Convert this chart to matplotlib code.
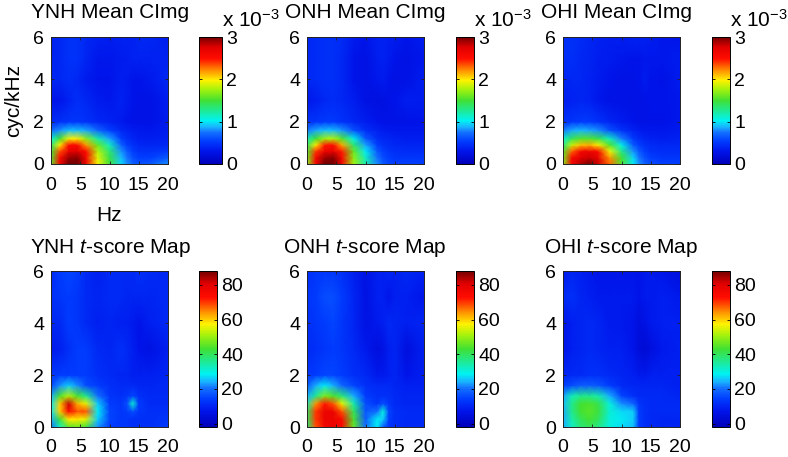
import numpy as np
import matplotlib
matplotlib.use("Agg")
import matplotlib.pyplot as plt
from matplotlib.colors import LinearSegmentedColormap

plt.rcParams["font.family"] = ["Liberation Sans", "DejaVu Sans"]
plt.rcParams["mathtext.fontset"] = "custom"
plt.rcParams["mathtext.it"] = "Liberation Sans:italic"
plt.rcParams["mathtext.rm"] = "Liberation Sans"

W, H = 788, 457

# grid the maps are read on (Hz and cyc/kHz)
rate_hz = [0, 1.5, 3, 4.5, 6, 8, 10, 12, 13, 14, 15, 17, 20]
scale_cyc = [0, 0.3, 0.6, 0.9, 1.2, 1.6, 2, 3, 4, 5, 6]

# mean CImg values, x 10^-3, rows go from scale 0 upward
ynh_mean = [
    [1.60, 2.60, 3.00, 3.05, 2.65, 1.95, 1.50, 0.95, 0.80, 0.68, 0.62, 0.65, 0.80],
    [1.55, 2.50, 2.90, 2.95, 2.60, 1.90, 1.45, 0.90, 0.75, 0.62, 0.55, 0.55, 0.65],
    [1.50, 2.35, 2.70, 2.75, 2.50, 1.80, 1.35, 0.82, 0.66, 0.55, 0.48, 0.48, 0.52],
    [1.35, 2.00, 2.50, 2.55, 2.20, 1.60, 1.15, 0.68, 0.55, 0.47, 0.42, 0.40, 0.42],
    [1.05, 1.50, 1.95, 2.00, 1.70, 1.20, 0.85, 0.55, 0.46, 0.40, 0.37, 0.36, 0.38],
    [0.70, 0.80, 0.90, 0.90, 0.85, 0.70, 0.55, 0.42, 0.38, 0.35, 0.33, 0.32, 0.36],
    [0.42, 0.46, 0.50, 0.50, 0.47, 0.42, 0.38, 0.33, 0.30, 0.28, 0.27, 0.28, 0.34],
    [0.30, 0.30, 0.38, 0.45, 0.42, 0.35, 0.32, 0.38, 0.34, 0.30, 0.28, 0.28, 0.36],
    [0.40, 0.42, 0.45, 0.42, 0.35, 0.30, 0.30, 0.36, 0.34, 0.30, 0.30, 0.33, 0.42],
    [0.38, 0.42, 0.48, 0.48, 0.40, 0.32, 0.32, 0.35, 0.36, 0.38, 0.38, 0.38, 0.38],
    [0.38, 0.42, 0.48, 0.48, 0.42, 0.38, 0.36, 0.38, 0.38, 0.38, 0.42, 0.42, 0.36],
]
onh_mean = [
    [1.70, 2.60, 3.00, 3.10, 2.60, 1.75, 1.20, 0.80, 0.65, 0.58, 0.55, 0.55, 0.55],
    [1.65, 2.55, 2.90, 2.95, 2.55, 1.70, 1.15, 0.74, 0.60, 0.54, 0.50, 0.50, 0.50],
    [1.55, 2.40, 2.65, 2.70, 2.45, 1.60, 1.00, 0.65, 0.55, 0.50, 0.46, 0.44, 0.44],
    [1.40, 2.00, 2.45, 2.50, 2.15, 1.35, 0.85, 0.55, 0.48, 0.44, 0.42, 0.40, 0.40],
    [1.15, 1.50, 1.75, 1.80, 1.55, 1.05, 0.65, 0.45, 0.42, 0.40, 0.38, 0.36, 0.36],
    [0.75, 0.85, 0.90, 0.90, 0.82, 0.62, 0.45, 0.38, 0.35, 0.33, 0.32, 0.32, 0.32],
    [0.48, 0.50, 0.52, 0.52, 0.48, 0.42, 0.36, 0.30, 0.28, 0.27, 0.27, 0.28, 0.30],
    [0.32, 0.36, 0.42, 0.44, 0.42, 0.36, 0.26, 0.24, 0.25, 0.27, 0.30, 0.36, 0.34],
    [0.42, 0.44, 0.46, 0.46, 0.42, 0.30, 0.26, 0.32, 0.34, 0.30, 0.26, 0.28, 0.36],
    [0.42, 0.44, 0.46, 0.46, 0.42, 0.30, 0.26, 0.36, 0.38, 0.34, 0.30, 0.26, 0.32],
    [0.42, 0.44, 0.46, 0.46, 0.44, 0.34, 0.30, 0.38, 0.38, 0.36, 0.36, 0.30, 0.36],
]
ohi_mean = [
    [1.70, 2.60, 2.85, 3.00, 2.80, 2.30, 1.55, 1.00, 0.82, 0.68, 0.60, 0.55, 0.55],
    [1.65, 2.55, 2.75, 2.80, 2.70, 2.20, 1.50, 0.95, 0.76, 0.62, 0.55, 0.50, 0.50],
    [1.55, 2.30, 2.60, 2.65, 2.55, 1.95, 1.30, 0.82, 0.65, 0.55, 0.48, 0.45, 0.45],
    [1.30, 1.85, 2.10, 2.15, 2.00, 1.55, 1.05, 0.65, 0.54, 0.47, 0.44, 0.42, 0.42],
    [1.10, 1.40, 1.55, 1.55, 1.45, 1.15, 0.78, 0.52, 0.45, 0.40, 0.38, 0.36, 0.38],
    [0.75, 0.85, 0.88, 0.85, 0.80, 0.62, 0.48, 0.38, 0.34, 0.32, 0.32, 0.32, 0.34],
    [0.46, 0.50, 0.52, 0.52, 0.48, 0.40, 0.34, 0.30, 0.28, 0.27, 0.27, 0.28, 0.32],
    [0.36, 0.38, 0.40, 0.38, 0.32, 0.28, 0.27, 0.26, 0.26, 0.28, 0.30, 0.30, 0.32],
    [0.40, 0.42, 0.42, 0.38, 0.34, 0.30, 0.28, 0.28, 0.30, 0.34, 0.30, 0.28, 0.34],
    [0.44, 0.46, 0.42, 0.40, 0.36, 0.34, 0.32, 0.30, 0.30, 0.32, 0.32, 0.32, 0.34],
    [0.46, 0.48, 0.44, 0.40, 0.38, 0.36, 0.36, 0.38, 0.38, 0.38, 0.36, 0.32, 0.30],
]

# t-score maps, same grid
ynh_t = [
    [20, 32, 45, 46, 42, 22, 14, 13, 13, 12, 12, 12, 14],
    [24, 42, 58, 58, 55, 26, 15, 13, 13, 12, 12, 12, 13],
    [28, 60, 74, 68, 68, 28, 15, 13, 14, 16, 13, 12, 12],
    [28, 60, 82, 62, 56, 26, 14, 13, 16, 31, 14, 11, 11],
    [24, 44, 52, 44, 36, 20, 13, 12, 13, 15, 12, 11, 11],
    [15, 22, 26, 22, 16, 14, 12, 11, 11, 11, 10, 10, 11],
    [13, 14, 14, 14, 14, 12, 11, 10, 10, 9, 9, 9, 10],
    [8, 9, 12, 14, 14, 11, 10, 12, 11, 9, 7, 6, 9],
    [10, 11, 14, 13, 11, 9, 10, 9, 9, 8, 7, 9, 11],
    [12, 13, 14, 13, 11, 10, 11, 11, 10, 10, 10, 10, 11],
    [11, 14, 15, 14, 11, 9, 11, 11, 11, 11, 12, 11, 10],
]
onh_t = [
    [38, 68, 76, 78, 74, 46, 20, 28, 18, 13, 12, 11, 11],
    [40, 70, 78, 78, 74, 44, 18, 28, 26, 14, 12, 11, 11],
    [40, 70, 78, 78, 68, 40, 17, 20, 30, 15, 12, 11, 11],
    [34, 64, 72, 68, 56, 34, 16, 13, 16, 13, 11, 10, 10],
    [24, 36, 48, 44, 38, 24, 14, 12, 12, 12, 11, 10, 10],
    [17, 24, 28, 24, 19, 15, 12, 11, 11, 11, 10, 9, 9],
    [13, 14, 15, 15, 14, 12, 11, 8, 8, 9, 10, 7, 9],
    [11, 12, 13, 14, 13, 11, 8, 5, 6, 9, 10, 5, 9],
    [12, 13, 14, 15, 13, 10, 6, 8, 9, 11, 10, 9, 10],
    [13, 14, 16, 16, 14, 10, 6, 9, 9, 7, 9, 9, 7],
    [12, 13, 13, 13, 12, 9, 6, 9, 9, 10, 9, 11, 9],
]
ohi_t = [
    [24, 32, 38, 40, 37, 30, 27, 25, 14, 12, 11, 10, 10],
    [24, 34, 40, 43, 40, 30, 28, 26, 14, 12, 11, 10, 10],
    [24, 36, 43, 45, 42, 31, 27, 26, 14, 12, 11, 11, 11],
    [25, 36, 43, 44, 41, 30, 22, 19, 13, 12, 11, 11, 11],
    [23, 33, 36, 36, 34, 24, 15, 12, 11, 11, 11, 11, 10],
    [14, 16, 18, 18, 17, 14, 11, 10, 10, 10, 10, 10, 9],
    [10, 11, 11, 12, 12, 11, 10, 9, 8, 8, 9, 9, 9],
    [7, 9, 10, 11, 10, 9, 9, 7, 4, 3, 5, 8, 9],
    [7, 9, 10, 11, 10, 8, 8, 7, 5, 6, 8, 9, 9],
    [11, 12, 10, 9, 8, 8, 8, 8, 7, 8, 8, 9, 8],
    [8, 10, 9, 8, 7, 7, 7, 7, 7, 8, 8, 7, 5],
]

mean_titles = ["YNH Mean CImg", "ONH Mean CImg", "OHI Mean CImg"]
t_titles = ["YNH $\\mathit{t}$-score Map", "ONH $\\mathit{t}$-score Map", "OHI $\\mathit{t}$-score Map"]
rate_ticks = [0, 5, 10, 15, 20]
scale_ticks = [0, 2, 4, 6]
mean_cticks = [0, 1, 2, 3]
t_cticks = [0, 20, 40, 60, 80]

# jet as it looks in the reference, cyan and yellow sit lower
ref_jet = LinearSegmentedColormap.from_list("ref_jet", [
    (0.00, (0.00, 0.00, 0.72)),
    (0.10, (0.00, 0.08, 0.92)),
    (0.18, (0.00, 0.24, 1.00)),
    (0.25, (0.08, 0.45, 1.00)),
    (0.29, (0.10, 0.70, 1.00)),
    (0.34, (0.00, 0.95, 0.95)),
    (0.50, (0.25, 0.88, 0.20)),
    (0.59, (0.65, 0.95, 0.05)),
    (0.66, (1.00, 0.95, 0.00)),
    (0.74, (1.00, 0.55, 0.00)),
    (0.83, (1.00, 0.05, 0.00)),
    (0.92, (0.88, 0.00, 0.00)),
    (1.00, (0.45, 0.00, 0.00)),
])

# pixel boxes: left edges of map and colorbar
ax_left = [51, 307, 563]
cb_left = [199, 456, 712]
cb_top_w = [23, 18, 18]
title_left = [[31, 285, 541], [30, 283, 544]]
FS = 14
TS = 15


def px_axes(fig, x0, y0, x1, y1):
    return fig.add_axes([x0 / W, 1 - y1 / H, (x1 - x0) / W, (y1 - y0) / H])


def panel(fig, data, x0, cx0, y0, y1, cb_w, vmin, vmax, cticks):
    ax = px_axes(fig, x0, y0, x0 + 117, y1)
    m = ax.pcolormesh(rate_hz, scale_cyc, np.array(data), shading="gouraud",
                      cmap=ref_jet, vmin=vmin, vmax=vmax, rasterized=True)
    ax.set_xlim(0, 20)
    ax.set_ylim(0, 6)
    ax.set_xticks(rate_ticks)
    ax.set_yticks(scale_ticks)
    ax.tick_params(direction="in", length=2, width=0.6, labelsize=FS, color="#222222",
                   top=True, right=True)
    ax.tick_params(axis="x", pad=9)
    ax.tick_params(axis="y", pad=5)
    for s in ax.spines.values():
        s.set_linewidth(0.7)
        s.set_color("#222222")

    cax = px_axes(fig, cx0, y0, cx0 + cb_w, y1)
    cb = fig.colorbar(m, cax=cax, ticks=cticks)
    cb.ax.tick_params(direction="in", length=2, width=0.6, labelsize=FS, pad=3, left=True, right=True)
    cb.outline.set_linewidth(0.7)
    cb.solids.set_rasterized(True)
    return ax


fig = plt.figure(figsize=(W / 100, H / 100), dpi=100)

tops = [ynh_mean, onh_mean, ohi_mean]
bottoms = [ynh_t, onh_t, ohi_t]

for i in range(3):
    ax = panel(fig, tops[i], ax_left[i], cb_left[i], 37, 164, cb_top_w[i], 0, 3, mean_cticks)
    fig.text(title_left[0][i] / W, 1 - 18 / H, mean_titles[i], fontsize=TS, ha="left", va="baseline")
    fig.text((cb_left[i] + cb_top_w[i]) / W, 1 - 27 / H, "x 10$^{-3}$", fontsize=TS, ha="left", va="baseline")
    if i == 0:
        ax.set_ylabel("cyc/kHz", fontsize=TS, labelpad=7)
        ax.set_xlabel("Hz", fontsize=TS, labelpad=9)

    panel(fig, bottoms[i], ax_left[i], cb_left[i], 271, 427, 18, -2, 88, t_cticks)
    fig.text(title_left[1][i] / W, 1 - 253 / H, t_titles[i], fontsize=TS, ha="left", va="baseline")

fig.savefig("out.png", dpi=100)
